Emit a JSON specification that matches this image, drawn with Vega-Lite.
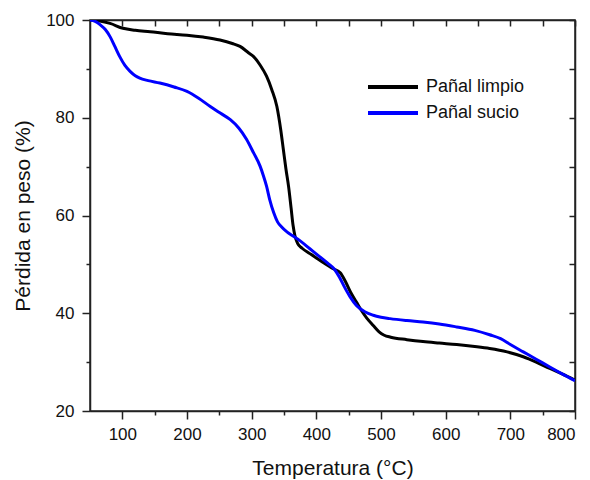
{
  "$schema": "https://vega.github.io/schema/vega-lite/v6.json",
  "width": 485,
  "height": 391,
  "autosize": {"type": "none"},
  "padding": {"left": 90, "top": 20, "right": 15, "bottom": 69},
  "background": "white",
  "config": {
    "font": "Liberation Sans",
    "view": {"stroke": "#222", "strokeWidth": 1.5},
    "axis": {"domainColor": "#222", "domainWidth": 1.5, "tickColor": "#222", "tickWidth": 1.5, "grid": false, "labelFont": "Liberation Sans", "titleFont": "Liberation Sans", "labelColor": "#111", "titleColor": "#111", "titleFontWeight": "normal"}
  },
  "data": {"values": [
    {"T": 50, "w": 100, "s": "Pañal limpio"},
    {"T": 65, "w": 99.8, "s": "Pañal limpio"},
    {"T": 81, "w": 99.3, "s": "Pañal limpio"},
    {"T": 101, "w": 98.3, "s": "Pañal limpio"},
    {"T": 120, "w": 97.9, "s": "Pañal limpio"},
    {"T": 143, "w": 97.6, "s": "Pañal limpio"},
    {"T": 170, "w": 97.2, "s": "Pañal limpio"},
    {"T": 200, "w": 96.9, "s": "Pañal limpio"},
    {"T": 225, "w": 96.5, "s": "Pañal limpio"},
    {"T": 251, "w": 95.9, "s": "Pañal limpio"},
    {"T": 270, "w": 95.2, "s": "Pañal limpio"},
    {"T": 282, "w": 94.6, "s": "Pañal limpio"},
    {"T": 295, "w": 93.3, "s": "Pañal limpio"},
    {"T": 303, "w": 92.5, "s": "Pañal limpio"},
    {"T": 313, "w": 90.8, "s": "Pañal limpio"},
    {"T": 323, "w": 88.5, "s": "Pañal limpio"},
    {"T": 331, "w": 85.8, "s": "Pañal limpio"},
    {"T": 339, "w": 82.3, "s": "Pañal limpio"},
    {"T": 345, "w": 77.5, "s": "Pañal limpio"},
    {"T": 349, "w": 73.5, "s": "Pañal limpio"},
    {"T": 353, "w": 69.5, "s": "Pañal limpio"},
    {"T": 357, "w": 66, "s": "Pañal limpio"},
    {"T": 361, "w": 61.5, "s": "Pañal limpio"},
    {"T": 364, "w": 58, "s": "Pañal limpio"},
    {"T": 367, "w": 55.8, "s": "Pañal limpio"},
    {"T": 371, "w": 54.3, "s": "Pañal limpio"},
    {"T": 378, "w": 53.3, "s": "Pañal limpio"},
    {"T": 390, "w": 52.2, "s": "Pañal limpio"},
    {"T": 400, "w": 51.3, "s": "Pañal limpio"},
    {"T": 413, "w": 50.2, "s": "Pañal limpio"},
    {"T": 426, "w": 49.1, "s": "Pañal limpio"},
    {"T": 437, "w": 48.3, "s": "Pañal limpio"},
    {"T": 445, "w": 46.5, "s": "Pañal limpio"},
    {"T": 453, "w": 44.3, "s": "Pañal limpio"},
    {"T": 462, "w": 42.3, "s": "Pañal limpio"},
    {"T": 470, "w": 40.5, "s": "Pañal limpio"},
    {"T": 478, "w": 39, "s": "Pañal limpio"},
    {"T": 488, "w": 37.5, "s": "Pañal limpio"},
    {"T": 497, "w": 36.2, "s": "Pañal limpio"},
    {"T": 505, "w": 35.5, "s": "Pañal limpio"},
    {"T": 515, "w": 35.1, "s": "Pañal limpio"},
    {"T": 540, "w": 34.6, "s": "Pañal limpio"},
    {"T": 565, "w": 34.2, "s": "Pañal limpio"},
    {"T": 590, "w": 33.9, "s": "Pañal limpio"},
    {"T": 617, "w": 33.6, "s": "Pañal limpio"},
    {"T": 645, "w": 33.2, "s": "Pañal limpio"},
    {"T": 668, "w": 32.8, "s": "Pañal limpio"},
    {"T": 695, "w": 32.1, "s": "Pañal limpio"},
    {"T": 720, "w": 31.1, "s": "Pañal limpio"},
    {"T": 740, "w": 30, "s": "Pañal limpio"},
    {"T": 761, "w": 28.7, "s": "Pañal limpio"},
    {"T": 780, "w": 27.6, "s": "Pañal limpio"},
    {"T": 800, "w": 26.3, "s": "Pañal limpio"},
    {"T": 50, "w": 100, "s": "Pañal sucio"},
    {"T": 58, "w": 99.7, "s": "Pañal sucio"},
    {"T": 66, "w": 99, "s": "Pañal sucio"},
    {"T": 74, "w": 98, "s": "Pañal sucio"},
    {"T": 81, "w": 96.6, "s": "Pañal sucio"},
    {"T": 88, "w": 94.7, "s": "Pañal sucio"},
    {"T": 96, "w": 92.5, "s": "Pañal sucio"},
    {"T": 104, "w": 90.7, "s": "Pañal sucio"},
    {"T": 112, "w": 89.5, "s": "Pañal sucio"},
    {"T": 120, "w": 88.6, "s": "Pañal sucio"},
    {"T": 127, "w": 88.1, "s": "Pañal sucio"},
    {"T": 140, "w": 87.6, "s": "Pañal sucio"},
    {"T": 158, "w": 87.1, "s": "Pañal sucio"},
    {"T": 180, "w": 86.3, "s": "Pañal sucio"},
    {"T": 200, "w": 85.4, "s": "Pañal sucio"},
    {"T": 218, "w": 84, "s": "Pañal sucio"},
    {"T": 236, "w": 82.3, "s": "Pañal sucio"},
    {"T": 252, "w": 80.9, "s": "Pañal sucio"},
    {"T": 267, "w": 79.6, "s": "Pañal sucio"},
    {"T": 280, "w": 77.9, "s": "Pañal sucio"},
    {"T": 292, "w": 75.6, "s": "Pañal sucio"},
    {"T": 303, "w": 72.8, "s": "Pañal sucio"},
    {"T": 313, "w": 70.1, "s": "Pañal sucio"},
    {"T": 318, "w": 68.2, "s": "Pañal sucio"},
    {"T": 323, "w": 66, "s": "Pañal sucio"},
    {"T": 328, "w": 63.2, "s": "Pañal sucio"},
    {"T": 334, "w": 60.6, "s": "Pañal sucio"},
    {"T": 340, "w": 58.7, "s": "Pañal sucio"},
    {"T": 346, "w": 57.7, "s": "Pañal sucio"},
    {"T": 355, "w": 56.6, "s": "Pañal sucio"},
    {"T": 364, "w": 55.8, "s": "Pañal sucio"},
    {"T": 375, "w": 54.8, "s": "Pañal sucio"},
    {"T": 390, "w": 53.2, "s": "Pañal sucio"},
    {"T": 405, "w": 51.6, "s": "Pañal sucio"},
    {"T": 418, "w": 50.2, "s": "Pañal sucio"},
    {"T": 428, "w": 49, "s": "Pañal sucio"},
    {"T": 436, "w": 47.3, "s": "Pañal sucio"},
    {"T": 443, "w": 45.5, "s": "Pañal sucio"},
    {"T": 452, "w": 43.4, "s": "Pañal sucio"},
    {"T": 462, "w": 41.6, "s": "Pañal sucio"},
    {"T": 475, "w": 40.3, "s": "Pañal sucio"},
    {"T": 488, "w": 39.6, "s": "Pañal sucio"},
    {"T": 500, "w": 39.2, "s": "Pañal sucio"},
    {"T": 514, "w": 38.9, "s": "Pañal sucio"},
    {"T": 540, "w": 38.5, "s": "Pañal sucio"},
    {"T": 565, "w": 38.2, "s": "Pañal sucio"},
    {"T": 590, "w": 37.8, "s": "Pañal sucio"},
    {"T": 617, "w": 37.2, "s": "Pañal sucio"},
    {"T": 645, "w": 36.5, "s": "Pañal sucio"},
    {"T": 668, "w": 35.6, "s": "Pañal sucio"},
    {"T": 685, "w": 34.8, "s": "Pañal sucio"},
    {"T": 700, "w": 33.6, "s": "Pañal sucio"},
    {"T": 720, "w": 32.1, "s": "Pañal sucio"},
    {"T": 740, "w": 30.6, "s": "Pañal sucio"},
    {"T": 761, "w": 29, "s": "Pañal sucio"},
    {"T": 780, "w": 27.6, "s": "Pañal sucio"},
    {"T": 800, "w": 26.2, "s": "Pañal sucio"}
  ]},
  "layer": [
    {
      "mark": {"type": "line", "strokeWidth": 3, "interpolate": "monotone", "clip": true},
      "encoding": {
        "x": {"field": "T", "type": "quantitative", "scale": {"domain": [50, 800], "nice": false, "zero": false},
          "axis": {"orient": "bottom", "title": "Temperatura (°C)", "values": [100, 150, 200, 250, 300, 350, 400, 450, 500, 550, 600, 650, 700, 750, 800],
            "labelExpr": "datum.value % 100 === 0 ? datum.label : ''", "labelFontSize": 17, "labelPadding": 7, "titleFontSize": 21, "titlePadding": 15,
            "tickSize": {"condition": {"test": "datum.value % 100 === 0", "value": 8}, "value": 4}}},
        "y": {"field": "w", "type": "quantitative", "scale": {"domain": [20, 100], "nice": false, "zero": false},
          "axis": {"orient": "left", "title": "Pérdida en peso (%)", "values": [20, 30, 40, 50, 60, 70, 80, 90, 100],
            "labelExpr": "datum.value % 20 === 0 ? datum.label : ''", "labelFontSize": 17, "labelPadding": 8, "titleFontSize": 21, "titlePadding": 12,
            "tickSize": {"condition": {"test": "datum.value % 20 === 0", "value": 8}, "value": 4}}},
        "color": {"field": "s", "type": "nominal", "scale": {"domain": ["Pañal limpio", "Pañal sucio"], "range": ["#000000", "#0000FF"]},
          "legend": {"title": null, "orient": "none", "legendX": 276, "legendY": 55, "symbolType": "stroke", "symbolSize": 2500, "symbolStrokeWidth": 4, "clipHeight": 24, "labelFontSize": 18, "labelFont": "Liberation Sans", "labelColor": "#111", "labelOffset": 6, "rowPadding": 2}}
      }
    },
    {
      "mark": {"type": "line", "strokeOpacity": 0},
      "encoding": {
        "x": {"field": "T", "type": "quantitative",
          "axis": {"orient": "top", "title": null, "labels": false, "values": [100, 150, 200, 250, 300, 350, 400, 450, 500, 550, 600, 650, 700, 750, 800], "tickSize": -6}},
        "y": {"field": "w", "type": "quantitative",
          "axis": {"orient": "right", "title": null, "labels": false, "values": [20, 30, 40, 50, 60, 70, 80, 90, 100], "tickSize": -6}},
        "detail": {"field": "s"}
      }
    }
  ],
  "resolve": {"axis": {"x": "independent", "y": "independent"}}
}
